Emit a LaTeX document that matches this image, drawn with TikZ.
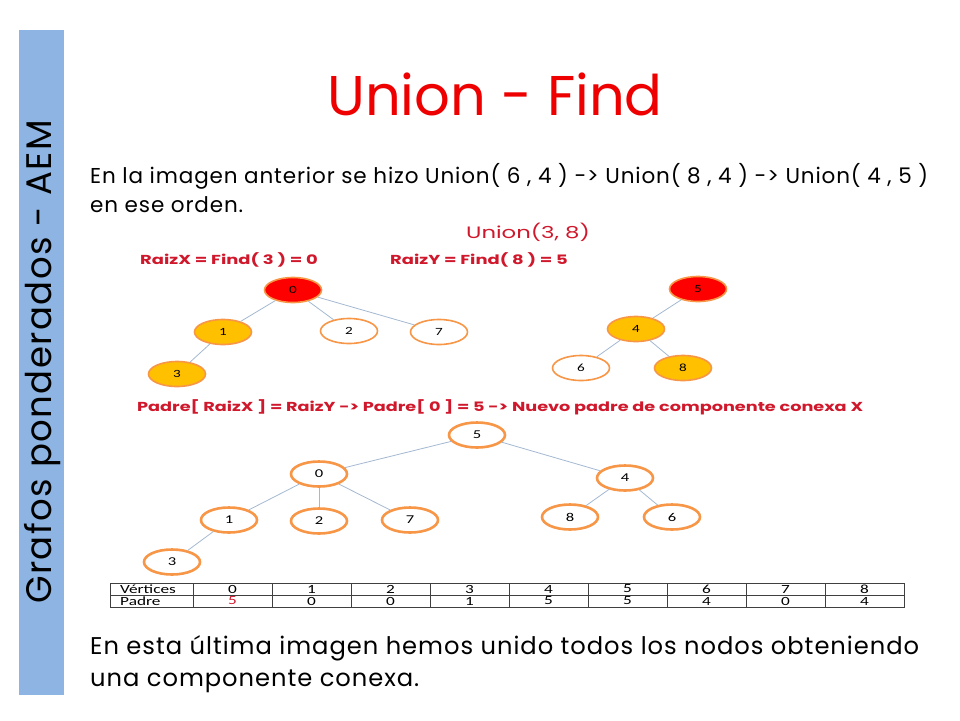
\documentclass[tikz,border=0pt]{standalone}
\usepackage{fontspec}
\usetikzlibrary{shapes.geometric}
\setmainfont{Poppins}
\newfontfamily\slide[LetterSpace=4]{Poppins}
\newfontfamily\calibri{Carlito}
\newcommand{\ancho}[1]{\scalebox{1.38}[1]{#1}}
\definecolor{barblue}{HTML}{8DB4E2}
\definecolor{titlered}{HTML}{EE0000}
\definecolor{labelred}{HTML}{D0182C}
\definecolor{ringorange}{HTML}{F79646}
\definecolor{nodeyellow}{HTML}{FFC000}
\definecolor{edgeblue}{HTML}{A3B8D1}

\begin{document}
\begin{tikzpicture}[x=1pt, y=-1pt,
  vtx/.style={ellipse, draw=ringorange, line width=1.6pt, minimum width=57pt, minimum height=25pt, inner sep=0pt, font=\calibri\fontsize{11}{11}\selectfont},
  raiz/.style={vtx, fill=red},
  hijo/.style={vtx, fill=nodeyellow},
  vtxb/.style={vtx, line width=2.6pt, minimum width=56pt, minimum height=25pt, font=\calibri\fontsize{12}{12}\selectfont},
  arista/.style={draw=edgeblue, line width=0.8pt},
  rojo/.style={text=labelred, font=\bfseries\fontsize{13}{13}\selectfont, inner sep=0pt},
  celda/.style={font=\calibri\fontsize{12.5}{12.5}\selectfont, inner sep=0pt}]
\useasboundingbox (0, 0) rectangle (960, 720);
% barra lateral
\fill[barblue] (19, 30) rectangle (64, 695);
\node[rotate=90, font=\slide\fontsize{35.5}{35.5}\selectfont] (lado) at (43, 362) {Grafos ponderados - AEM};
% titulo
\node[text=titlered, font=\fontsize{56}{56}\selectfont] (titulo) at (495, 94) {Union - Find};
% texto
\node[anchor=base west, inner sep=0pt, font=\slide\fontsize{21.5}{21.5}\selectfont] (linea1) at (90, 183) {En la imagen anterior se hizo Union( 6 , 4 ) -> Union( 8 , 4 ) -> Union( 4 , 5 )};
\node[anchor=base west, inner sep=0pt, font=\slide\fontsize{21.5}{21.5}\selectfont] (linea2) at (90, 212) {en ese orden.};
%Union(3, 8)
\node[text=labelred, font=\fontsize{16.5}{16.5}\selectfont, inner sep=0pt] (union) at (528, 232) {\ancho{Union(3, 8)}};
\node[rojo, anchor=west] (raizx) at (140, 260) {\ancho{RaizX = Find( 3 ) = 0}};
\node[rojo, anchor=west] (raizy) at (390, 260) {\ancho{RaizY = Find( 8 ) = 5}};
% arbol X
\node[raiz] (a0) at (293, 290) {\ancho{0}};
\node[hijo] (a1) at (223, 332) {\ancho{1}};
\node[vtx] (a2) at (349, 331) {\ancho{2}};
\node[vtx] (a7) at (439, 332) {\ancho{7}};
\node[hijo] (a3) at (177, 374) {\ancho{3}};
\draw[arista] (a0) -- (a1);
\draw[arista] (a0) -- (a2);
\draw[arista] (a0) -- (a7);
\draw[arista] (a1) -- (a3);
% arbol Y
\node[raiz] (b5) at (698, 289) {\ancho{5}};
\node[hijo] (b4) at (636, 329) {\ancho{4}};
\node[vtx] (b6) at (581, 368) {\ancho{6}};
\node[hijo] (b8) at (683, 368) {\ancho{8}};
\draw[arista] (b5) -- (b4);
\draw[arista] (b4) -- (b6);
\draw[arista] (b4) -- (b8);
% nuevo padre
\node[rojo, anchor=west] (padre) at (137, 407) {\scalebox{1.36}[1]{Padre[ RaizX ] = RaizY -> Padre[ 0 ] = 5 -> Nuevo padre de componente conexa X}};
% arbol unido
\node[vtxb] (c5) at (477, 435) {\ancho{5}};
\node[vtxb] (c0) at (319, 474) {\ancho{0}};
\node[vtxb] (c4) at (625, 478) {\ancho{4}};
\node[vtxb] (c1) at (229, 520) {\ancho{1}};
\node[vtxb] (c2) at (319, 521) {\ancho{2}};
\node[vtxb] (c7) at (410, 520) {\ancho{7}};
\node[vtxb] (c8) at (570, 517) {\ancho{8}};
\node[vtxb] (c6) at (672, 517) {\ancho{6}};
\node[vtxb] (c3) at (172, 562) {\ancho{3}};
\draw[arista] (c5) -- (c0);
\draw[arista] (c5) -- (c4);
\draw[arista] (c0) -- (c1);
\draw[arista] (c0) -- (c2);
\draw[arista] (c0) -- (c7);
\draw[arista] (c4) -- (c8);
\draw[arista] (c4) -- (c6);
\draw[arista] (c1) -- (c3);
% tabla
\draw[line width=0.8pt, draw=black!75] (110, 583) rectangle (904, 607);
\draw[line width=0.8pt, draw=black!75] (110, 595) -- (904, 595);
\foreach \k in {0,...,8}
  \draw[line width=0.8pt, draw=black!75] (193+79*\k, 583) -- (193+79*\k, 607);
\node[celda, anchor=west] (vert) at (120, 589) {\ancho{Vértices}};
\node[celda, anchor=west] (pad) at (120, 601) {\ancho{Padre}};
\foreach \k/\p/\c in {0/5/labelred, 1/0/black, 2/0/black, 3/1/black, 4/5/black, 5/5/black, 6/4/black, 7/0/black, 8/4/black} {
  \node[celda] (v\k) at (232.5+79*\k, 589) {\ancho{\k}};
  \node[celda, text=\c] (p\k) at (232.5+79*\k, 601) {\ancho{\p}};
}
% conclusion
\node[anchor=base west, inner sep=0pt, font=\slide\fontsize{24.2}{24.2}\selectfont] (fin1) at (90, 654) {En esta última imagen hemos unido todos los nodos obteniendo};
\node[anchor=base west, inner sep=0pt, font=\slide\fontsize{24.2}{24.2}\selectfont] (fin2) at (90, 686) {una componente conexa.};
\end{tikzpicture}
\end{document}
